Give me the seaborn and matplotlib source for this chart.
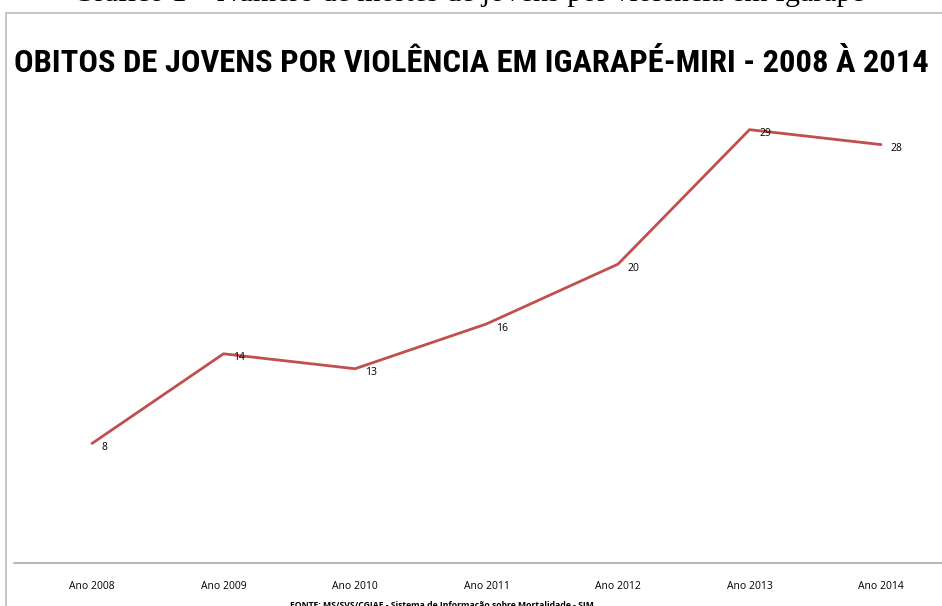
import matplotlib
matplotlib.use("Agg")
import matplotlib.pyplot as plt
from matplotlib import font_manager
import seaborn as sns
import pandas as pd
from matplotlib.lines import Line2D

categories = ["Ano 2008", "Ano 2009", "Ano 2010", "Ano 2011", "Ano 2012", "Ano 2013", "Ano 2014"]
deaths = [8, 14, 13, 16, 20, 29, 28]

title = "OBITOS DE JOVENS POR VIOLÊNCIA EM IGARAPÉ-MIRI - 2008 À 2014"
caption = "Gráfico 1 – Número de mortes de jovens por violência em Igarapé"
source = "FONTE: MS/SVS/CGIAE - Sistema de Informação sobre Mortalidade - SIM"

df = pd.DataFrame({"cat": categories, "val": deaths, "pos": range(len(categories))})

sns.set_theme(style="white")
W, H = 942, 606
fig = plt.figure(figsize=(W / 100, H / 100), dpi=100)

left_px, right_px = 14, 942
top_px, bottom_px = 40, 563
ax = fig.add_axes([left_px / W, 1 - bottom_px / H, (right_px - left_px) / W, (bottom_px - top_px) / H])

sns.lineplot(data=df, x="pos", y="val", ax=ax, color="#C0504D", linewidth=2.0, legend=False)

step = 131.5
x0 = 92
ax.set_xlim((left_px - x0) / step, (right_px - x0) / step)
ax.set_ylim(0, 35)
ax.set_xticks(df["pos"])
ax.set_xticklabels(categories, fontsize=7.5, family=["Open Sans", "DejaVu Sans"], color="black")
ax.tick_params(axis="x", length=0, pad=13)
ax.set_yticks([])
ax.set_xlabel("")
ax.set_ylabel("")
for s in ["top", "right", "left"]:
    ax.spines[s].set_visible(False)
ax.spines["bottom"].set_color("#AAAAAA")
ax.spines["bottom"].set_linewidth(1.2)

for p, v in zip(df["pos"], df["val"]):
    ax.annotate(str(v), (p, v), xytext=(7, -3), textcoords="offset points",
                ha="left", va="center", fontsize=7.5, color="black",
                family=["Open Sans", "DejaVu Sans"])

# chart border (left and top lines)
fig.add_artist(Line2D([6 / W, 6 / W], [0, 1 - 13 / H], color="#BBBBBB", linewidth=1.2))
fig.add_artist(Line2D([6 / W, 1], [1 - 13 / H, 1 - 13 / H], color="#BBBBBB", linewidth=1.2))


def find_narrow():
    for name in ["Liberation Sans Narrow", "Roboto Condensed", "Open Sans Condensed",
                 "DejaVu Sans Condensed", "Noto Sans Condensed"]:
        try:
            font_manager.findfont(font_manager.FontProperties(family=name, weight="bold"),
                                  fallback_to_default=False)
            return dict(family=[name, "DejaVu Sans"])
        except Exception:
            pass
    for name in ["DejaVu Sans", "Noto Sans", "Open Sans", "Roboto"]:
        try:
            f = font_manager.findfont(font_manager.FontProperties(family=name, weight="bold",
                                                                  stretch="condensed"),
                                      fallback_to_default=False)
            if "ondensed" in f or "arrow" in f:
                return dict(family=[name, "DejaVu Sans"], fontstretch="condensed")
        except Exception:
            pass
    return dict(family=["Liberation Sans", "DejaVu Sans"])


title_font = find_narrow()
renderer = fig.canvas.get_renderer()


def fit_text(t, target_px):
    ext = t.get_window_extent(renderer=renderer)
    t.set_fontsize(t.get_fontsize() * target_px / ext.width)


# chart title
t_title = fig.text(471 / W, 1 - 62.5 / H, title, ha="center", va="center", fontsize=24, fontweight="bold",
                   color="black", **title_font)
fit_text(t_title, 915)

# document caption cut at the top
t_cap = fig.text(73 / W, 1 - 1.0 / H, caption, ha="left", va="baseline", fontsize=20,
                 family=["Liberation Serif", "DejaVu Serif"], color="black")
fit_text(t_cap, 794)

# source footer cut at the bottom
fig.text(442 / W, 1 - 608 / H, source, ha="center", va="baseline", fontsize=6.2, fontweight="bold",
         family=["Open Sans", "DejaVu Sans"], color="black")

fig.savefig("out.png", dpi=100, facecolor="white")
